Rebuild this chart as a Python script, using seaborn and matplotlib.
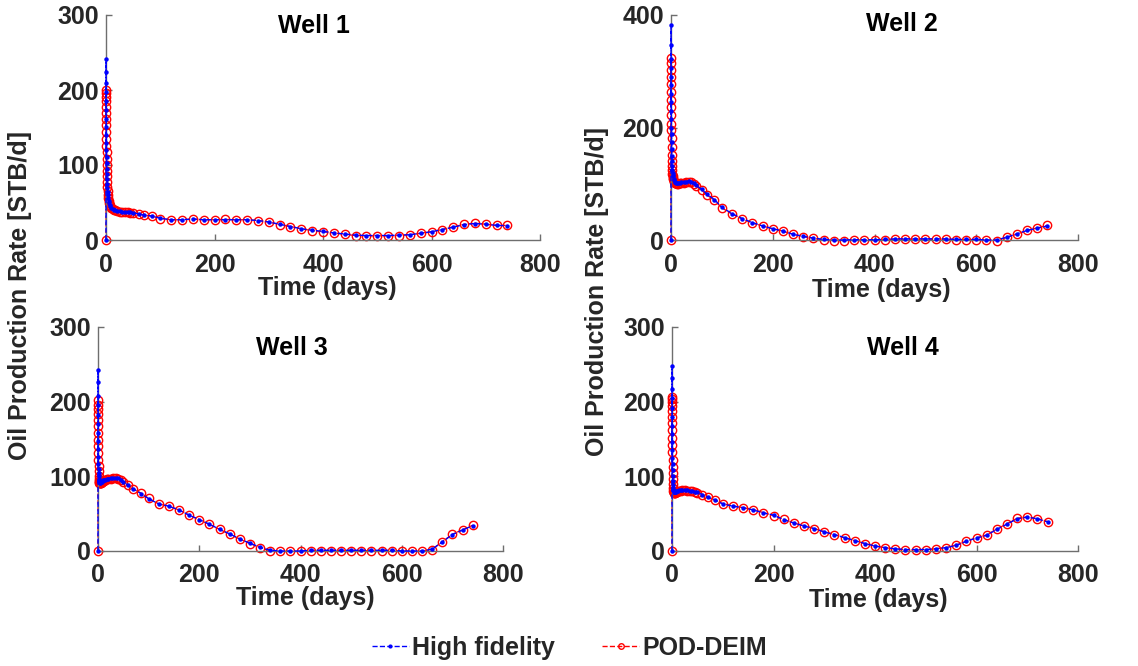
import numpy as np
import pandas as pd
import matplotlib
matplotlib.use("Agg")
import matplotlib.pyplot as plt
from matplotlib.lines import Line2D
import seaborn as sns

# ---------------- data ----------------
time_days = [0, 0.05, 0.1, 0.15, 0.2, 0.3, 0.4, 0.5, 0.6, 0.7, 0.8, 0.9, 1.0,
             1.2, 1.4, 1.6, 1.8, 2.0, 2.5, 3.0, 3.5, 4.0, 5, 6, 7, 8, 10, 12, 14,
             17, 20, 25, 30, 35, 40, 45, 50, 60, 70, 85,
             100, 120, 140, 160, 180, 200, 220, 240, 260, 280, 300, 320, 340, 360,
             380, 400, 420, 440, 460, 480, 500, 520, 540, 560, 580, 600, 620, 640,
             660, 680, 700, 720, 740]

well1_hf = [0, 241, 224, 210, 198, 186, 174, 162, 151, 140, 130, 120, 111, 103, 95, 88, 81, 75,
            69, 64, 60, 56, 52, 49, 47, 45, 43, 41.5, 40.5, 39.5, 39, 38.5, 38, 37.5, 37, 37, 36, 35, 33, 32,
            29, 27, 27, 28, 27, 27, 27, 27, 27, 26, 24, 21, 18, 15, 13, 11.5, 9.5, 8, 6.5, 6, 6, 6, 6.5,
            7, 9, 11, 14, 17, 20.5, 22, 21, 19.5, 19]
well1_pod = [0, 200, 196, 191, 185, 178, 170, 162, 153, 144, 135, 126, 117, 108, 100, 92, 85, 78,
             71, 65, 60, 56, 52, 49, 47, 45, 43, 41.5, 40.5, 39.5, 38.5, 38, 37.5, 37, 37, 36.5, 36, 35, 33, 32,
             28.5, 27, 27, 28, 27, 27, 27.5, 27, 27, 26, 24, 20.5, 18, 15, 12.5, 11, 9.5, 7.5, 6, 5.5, 5.5,
             5.5, 6, 7, 9, 11, 14, 17.5, 21, 22.5, 21, 19.5, 19.5]

well2_hf = [0, 382, 347, 322, 305, 290, 275, 260, 245, 230, 215, 200, 188, 175, 162, 150, 140, 132,
            125, 120, 116, 113, 109, 106, 104, 103, 102, 101.5, 101.5, 102, 102.5, 103, 104, 105, 104, 101,
            97, 90, 82, 72,
            58, 47, 38, 31, 25, 20, 16, 10, 6.5, 3.5, 1, 0, 0, 0.5, 0.5, 0.5, 1, 2, 2, 2, 2, 2, 2, 1, 1,
            1, 0, 0, 5, 11, 17, 21, 25]
well2_pod = [0, 323, 314, 303, 290, 277, 264, 249, 237, 222, 207, 196, 181, 166, 151, 140, 131, 124,
             118, 114, 111, 108, 105, 103, 102, 101, 100.5, 100, 100, 100.5, 101, 102, 103, 104, 103.5, 100,
             96, 89, 80, 71,
             57, 46, 37.5, 30, 25, 20, 15.5, 10.5, 6, 3, 0, -1, -1, 0, 0, 0, 0.5, 1.5, 1.5, 1.5, 1.5, 1.5,
             1.5, 0.5, 0.5, 0.5, -0.5, -1, 4.5, 10.5, 17, 21.5, 26]

well3_hf = [0, 243, 226, 208, 195, 182, 170, 158, 147, 136, 126, 117, 110, 104, 100, 97, 95, 93.5,
            92.5, 92, 91.5, 91.5, 92, 92.5, 93, 93.5, 94.5, 95, 95.5, 96.5, 97, 97.5, 98, 98, 97.5, 95.5,
            92.5, 88, 83, 77,
            70, 63, 60, 55, 48, 42, 36, 29, 23, 16, 10.5, 5, 1, 0, 0, 0, 1, 1, 1, 1, 1, 1, 1, 1, 1, 0, 0,
            0, 2.5, 12, 22, 28, 34]
well3_pod = [0, 202, 196, 190, 183, 175, 167, 158, 149, 140, 131, 122, 114, 107, 101, 97, 94, 92,
             91, 90.5, 90.5, 90.5, 91, 91.5, 92, 92.5, 93.5, 94, 95, 96, 96.5, 97, 97.5, 97.5, 97, 95,
             92, 88, 83, 77.5,
             70.5, 63, 60, 55, 48, 42, 35.5, 29, 22.5, 16, 10, 4.5, 0, -0.5, -0.5, -0.5, 0.5, 0.5, 0.5,
             0.5, 0.5, 0.5, 0.5, 0.5, 0.5, 0, -0.5, -0.5, 2, 12.5, 22.5, 28.5, 34.5]

well4_hf = [0, 248, 232, 217, 205, 192, 180, 168, 157, 146, 135, 125, 116, 108, 100, 94, 89, 85,
            82, 80, 79, 78.5, 78.5, 79, 79.5, 80, 80.5, 81, 81.5, 82, 82, 82, 81.5, 81, 80.5, 79.5,
            78.5, 75.5, 72, 68.5,
            63, 60, 58, 55, 51, 48, 42, 37.5, 33.5, 30, 25.5, 22, 18, 14, 10, 6.7, 4.5, 3, 2, 2, 2, 3,
            4.5, 7.5, 13, 17.5, 21, 29, 36, 43, 45.5, 43, 39]
well4_pod = [0, 206, 203, 199, 194, 188, 180, 171, 162, 152, 142, 132, 122, 113, 104, 96, 90, 85,
             81, 79, 78, 77.5, 77.5, 78, 78.5, 79, 79.5, 80, 80.5, 81, 81.5, 81.5, 81, 80.5, 80, 79,
             78, 75, 72, 68,
             63.5, 60.5, 58, 55.5, 51.5, 47.5, 42.5, 37.5, 34, 30, 26, 22, 17.5, 14, 10, 6.5, 4.5, 2.5,
             1.5, 1.5, 1.5, 3, 4.5, 8, 13.5, 17.5, 21.5, 29.5, 36.5, 44, 45.5, 43.5, 39.5]

well_titles = ["Well 1", "Well 2", "Well 3", "Well 4"]
hf_series = [well1_hf, well2_hf, well3_hf, well4_hf]
pod_series = [well1_pod, well2_pod, well3_pod, well4_pod]
y_max = [300, 400, 300, 300]
y_ticks = [[0, 100, 200, 300], [0, 200, 400], [0, 100, 200, 300], [0, 100, 200, 300]]
x_ticks = [0, 200, 400, 600, 800]
legend_labels = ["High fidelity", "POD-DEIM"]
x_label = "Time (days)"
y_label = "Oil Production Rate [STB/d]"

# ---------------- style ----------------
sns.set_style("white")
plt.rcParams["font.family"] = ["Liberation Sans", "DejaVu Sans"]
plt.rcParams["font.weight"] = "bold"

W, H = 1138, 666
fig = plt.figure(figsize=(W / 100, H / 100), dpi=100)

# axes boxes in pixel coords (left, top, right, bottom)
boxes = [(106, 15, 540, 240), (671, 15, 1078, 240),
         (98, 327, 503, 551), (672, 327, 1078, 551)]
title_pos = [(314, 26), (902, 24), (292, 348), (903, 348)]
xlabel_pos = [(327, 288), (881, 290), (305, 598), (878, 600)]

AX_COL = "#6e6e6e"
TXT_COL = "#262626"
FS = 18

for i in range(4):
    l, t, r, b = boxes[i]
    ax = fig.add_axes([l / W, 1 - b / H, (r - l) / W, (b - t) / H])
    df = pd.DataFrame({"time": time_days, "hf": hf_series[i], "pod": pod_series[i]})
    sns.lineplot(data=df, x="time", y="hf", ax=ax, sort=False, estimator=None,
                 color="blue", linestyle="--", linewidth=1.0, marker="o",
                 markersize=3.2, markeredgewidth=0, markerfacecolor="blue",
                 clip_on=False, legend=False, zorder=3)
    sns.lineplot(data=df, x="time", y="pod", ax=ax, sort=False, estimator=None,
                 color="red", linestyle="--", linewidth=0.9, marker="o",
                 markersize=6.0, markeredgewidth=1.0, markerfacecolor="none",
                 markeredgecolor="red", clip_on=False, legend=False, zorder=2)
    ax.set_xlim(0, 800)
    ax.set_ylim(0, y_max[i])
    ax.set_xticks(x_ticks)
    ax.set_yticks(y_ticks[i])
    ax.set_xlabel("")
    ax.set_ylabel("")
    for s in ["top", "right"]:
        ax.spines[s].set_visible(False)
    for s in ["left", "bottom"]:
        ax.spines[s].set_visible(True)
        ax.spines[s].set_color(AX_COL)
        ax.spines[s].set_linewidth(1.0)
    ax.tick_params(axis="both", direction="in", length=4, width=1.0, color=AX_COL,
                   labelsize=FS, labelcolor=TXT_COL, bottom=True, left=True)
    ax.tick_params(axis="x", pad=9)
    ax.tick_params(axis="y", pad=5)
    for lab in ax.get_xticklabels() + ax.get_yticklabels():
        lab.set_fontweight("bold")
    ax.set_facecolor("none")

    tx, ty = title_pos[i]
    fig.text(tx / W, 1 - ty / H, well_titles[i], ha="center", va="center",
             fontsize=FS, fontweight="bold", color="black")
    xx, xy = xlabel_pos[i]
    fig.text(xx / W, 1 - xy / H, x_label, ha="center", va="center",
             fontsize=FS, fontweight="bold", color=TXT_COL)

for (yx, yy) in [(20, 295), (597, 292)]:
    fig.text(yx / W, 1 - yy / H, y_label, ha="center", va="center", rotation=90,
             fontsize=FS, fontweight="bold", color=TXT_COL)

handles = [Line2D([], [], color="blue", linestyle="--", linewidth=1.0, marker="o",
                  markersize=3, markeredgewidth=0),
           Line2D([], [], color="red", linestyle="--", linewidth=1.0, marker="o",
                  markersize=4, markerfacecolor="none", markeredgewidth=1.0)]
fig.legend(handles, legend_labels, loc="center", bbox_to_anchor=(0.5, 1 - 648 / H),
           ncol=2, frameon=False, fontsize=FS, handlelength=1.5, handletextpad=0.1,
           columnspacing=1.9, prop={"weight": "bold", "size": FS})

fig.savefig("out.png", dpi=100)
